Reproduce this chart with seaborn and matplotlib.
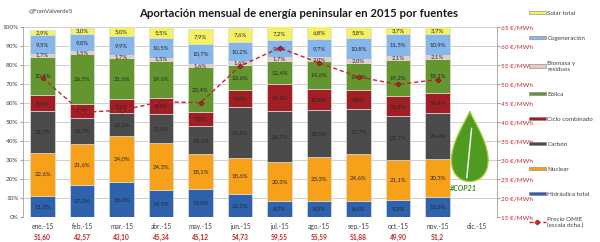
import numpy as np
import pandas as pd
import seaborn as sns
import matplotlib.pyplot as plt
from matplotlib.patches import Patch, Polygon
from matplotlib.lines import Line2D

#------------------------------------------------------------------------------#
# Monthly peninsular generation share by source (%) and OMIE price (EUR/MWh)
#------------------------------------------------------------------------------#

months = ['ene.-15', 'feb.-15', 'mar.-15', 'abr.-15', 'may.-15', 'jun.-15',
          'jul.-15', 'ago.-15', 'sep.-15', 'oct.-15', 'nov.-15', 'dic.-15']

hidraulica = [11.3, 17.0, 18.6, 14.5, 15.0, 12.3, 8.7, 8.3, 8.6, 9.2, 10.5]
nuclear    = [22.6, 21.6, 24.0, 24.3, 18.1, 18.6, 20.3, 23.3, 24.6, 21.1, 20.3]
carbon     = [21.7, 13.7, 12.1, 15.6, 14.6, 26.8, 26.7, 25.0, 23.7, 22.7, 24.0]
ciclo      = [8.4, 7.2, 7.2, 8.4, 7.8, 9.0, 14.3, 10.8, 9.8, 10.5, 10.4]
eolica     = [20.4, 26.5, 21.6, 19.6, 23.4, 13.6, 12.4, 14.6, 14.6, 19.2, 18.1]
biomasa    = [1.7, 1.5, 1.7, 1.5, 1.6, 1.6, 1.7, 2.0, 2.0, 2.1, 2.1]
cogen      = [9.5, 9.0, 9.9, 10.5, 10.7, 10.2, 9.3, 9.7, 10.8, 11.5, 10.9]
solar      = [2.9, 3.0, 5.0, 5.5, 7.9, 7.6, 7.2, 6.8, 5.8, 3.7, 3.7]

precio = [51.60, 42.57, 43.10, 45.34, 45.12, 54.73, 59.55, 55.59, 51.88,
          49.90, 51.2]
precio_labels = ['51,60', '42,57', '43,10', '45,34', '45,12', '54,73', '59,55',
                 '55,59', '51,88', '49,90', '51,2', '']

series = [('Hidráulica total', hidraulica, '#2f62ad'),
          ('Nuclear', nuclear, '#f7a11b'),
          ('Carbón', carbon, '#4b4b4b'),
          ('Ciclo combinado', ciclo, '#a11f24'),
          ('Eólica', eolica, '#64962f'),
          ('Biomasa y\nresiduos', biomasa, '#e9c9c6'),
          ('Cogeneración', cogen, '#86b6ea'),
          ('Solar total', solar, '#f4f164')]

#------------------------------------------------------------------------------#

def main():

    sns.set_style('white')
    plt.rcParams['font.family'] = ['Lato', 'DejaVu Sans']

    fig = plt.figure(figsize=(6.0, 2.42), dpi=100)
    ax = fig.add_axes([0.038, 0.103, 0.790, 0.785])

    ax.yaxis.grid(True, color='#c8c8c8', lw=0.6)
    ax.set_axisbelow(True)

    n = len(hidraulica)
    bottom = np.zeros(n)
    for name, vals, color in series:
        df = pd.DataFrame({'mes': months[:n], 'valor': vals})
        sns.barplot(data=df, x='mes', y='valor', order=months, color=color,
                    width=0.63, bottom=bottom, edgecolor='#dcdcdc',
                    linewidth=0.5, saturation=1, ax=ax)
        cont = ax.containers[-1]
        labels = [('%.1f%%' % v).replace('.', ',') for v in vals]
        ax.bar_label(cont, labels=labels, label_type='center', fontsize=4.3,
                     color='#262626')
        bottom = bottom + np.array(vals)

    ax.set_ylim(0, 100)
    ax.set_xlim(-0.5, len(months) - 0.5)
    ax.set_yticks(range(0, 101, 10))
    ax.set_yticklabels(['%d%%' % v for v in range(0, 101, 10)],
                       fontsize=4.6, color='#404040')
    ax.set_xlabel('')
    ax.set_ylabel('')
    ax.tick_params(axis='x', labelsize=4.8, colors='#404040', length=0, pad=4)
    ax.tick_params(axis='y', length=2, pad=1, left=True, color='#a0a0a0')
    for side in ['top', 'right', 'bottom']:
        ax.spines[side].set_visible(False)
    ax.spines['left'].set_color('#a0a0a0')
    ax.spines['left'].set_linewidth(0.6)

    # price labels under the month names
    for i, lab in enumerate(precio_labels):
        ax.text(i, -10.5, lab, ha='center', va='center', fontsize=4.8,
                color='#c0282d', fontweight='bold')

    # OMIE price on secondary axis
    ax2 = ax.twinx()
    sns.lineplot(x=np.arange(len(precio)), y=precio, ax=ax2, color='#c0282d',
                 linestyle=(0, (3, 2)), lw=1.0, marker='D', markersize=2.4,
                 markeredgecolor='#8a1a1a', markerfacecolor='#c0282d')
    ax2.set_ylim(15, 65)
    ax2.set_yticks(range(15, 66, 5))
    ax2.set_yticklabels(['%d €/MWh' % v for v in range(15, 66, 5)],
                        fontsize=4.6, color='#c0282d')
    ax2.tick_params(axis='y', length=2, pad=1, right=True, color='#a0a0a0')
    for side in ['top', 'left', 'bottom']:
        ax2.spines[side].set_visible(False)
    ax2.spines['right'].set_color('#a0a0a0')
    ax2.spines['right'].set_linewidth(0.6)

    # titles
    fig.text(0.497, 0.945, 'Aportación mensual de energía peninsular en 2015 por fuentes',
             ha='center', va='center', fontsize=8.2, fontweight='bold',
             color='#1a1a1a')
    fig.text(0.047, 0.955, '@FranValverde5', ha='left', va='center',
             fontsize=4.4, color='#404040')

    # COP21 leaf
    t = np.linspace(0, 2 * np.pi, 200)
    lx = 0.783 + 0.042 * np.sin(t) * np.sin(t / 2) ** 1.3
    ly = 0.25 + 0.29 * (1 + np.cos(t)) / 2
    leaf = Polygon(np.column_stack([lx, ly]), closed=True, transform=fig.transFigure,
                   facecolor='#4f9b22', edgecolor='#a9c82c', lw=0.9)
    fig.patches.append(leaf)
    fig.add_artist(Line2D([0.778, 0.786], [0.265, 0.47], color='white', lw=1.0))
    fig.text(0.772, 0.222, '#COP21', ha='center', va='center', fontsize=5.2,
             fontweight='bold', fontstyle='italic', color='#3d8a1d')

    # legend
    handles = [Patch(facecolor=c, edgecolor='#808080', lw=0.4, label=nm)
               for nm, v, c in series[::-1]]
    handles.append(Line2D([], [], color='#c0282d', linestyle=(0, (3, 2)),
                          marker='D', markersize=2.4, lw=1.0,
                          label='Precio OMIE\n(escala dcha.)'))
    fig.legend(handles=handles, loc='upper left', bbox_to_anchor=(0.878, 0.965),
               frameon=False, fontsize=4.5, labelspacing=3.2,
               handlelength=2.6, handleheight=0.45, handletextpad=0.3,
               borderaxespad=0, labelcolor='#404040')

    fig.savefig('out.png', dpi=100)

if __name__ == '__main__':
    main()
